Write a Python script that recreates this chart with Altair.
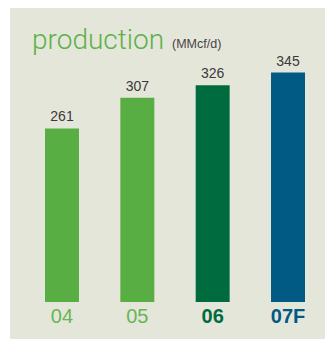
import altair as alt
import pandas as pd

years = ["04", "05", "06", "07F"]
values = [261, 307, 326, 345]
bar_colors = ["#58AE43", "#58AE43", "#006B3F", "#005A84"]
label_colors = ["#66B655", "#66B655", "#006B3F", "#005A84"]
bold = [False, False, True, True]

df = pd.DataFrame({
    "year": years,
    "value": values,
    "bar_color": bar_colors,
    "label_color": label_colors,
    "bold": bold,
})

x = alt.X("year:N", sort=years, axis=None,
          scale=alt.Scale(range=[35, 295], paddingInner=0.549, paddingOuter=0))
y = alt.Y("value:Q", axis=None, scale=alt.Scale(domain=[-55.6, 442], nice=False, zero=False))

base = alt.Chart(df)

bars = base.mark_bar().encode(
    x=x, y=y, y2=alt.datum(0),
    color=alt.Color("bar_color:N", scale=None),
)

vals = base.mark_text(baseline="alphabetic", dy=-7, fontSize=14, font="Liberation Sans",
                      color="#3A3A3A").encode(x=x, y=y, text="value:Q")

cat_normal = base.transform_filter("!datum.bold").mark_text(
    baseline="top", dy=5, fontSize=20, font="Liberation Sans"
).encode(x=x, y=alt.datum(0), text="year:N",
         color=alt.Color("label_color:N", scale=None))

cat_bold = base.transform_filter("datum.bold").mark_text(
    baseline="top", dy=5, fontSize=20, font="Liberation Sans", fontWeight="bold"
).encode(x=x, y=alt.datum(0), text="year:N",
         color=alt.Color("label_color:N", scale=None))

title = alt.Chart(pd.DataFrame({"t": ["production"]})).mark_text(
    align="left", baseline="alphabetic", fontSize=28, font="Roboto", fontWeight=300,
    color="#5DB14A"
).encode(x=alt.value(22), y=alt.value(41), text="t:N")

unit = alt.Chart(pd.DataFrame({"t": ["(MMcf/d)"]})).mark_text(
    align="left", baseline="alphabetic", fontSize=12.5, font="Liberation Sans", color="#444444"
).encode(x=alt.value(162), y=alt.value(40), text="t:N")

chart = alt.layer(bars, vals, cat_normal, cat_bold, title, unit).properties(
    width=315, height=331,
    padding={"left": 10, "top": 8, "right": 0, "bottom": 0},
    autosize=alt.AutoSizeParams(type="none"),
    background="white",
).configure_view(fill="#E5E6DA", stroke=None)

chart.save("out.html", embed_options={"renderer": "svg", "actions": False})
